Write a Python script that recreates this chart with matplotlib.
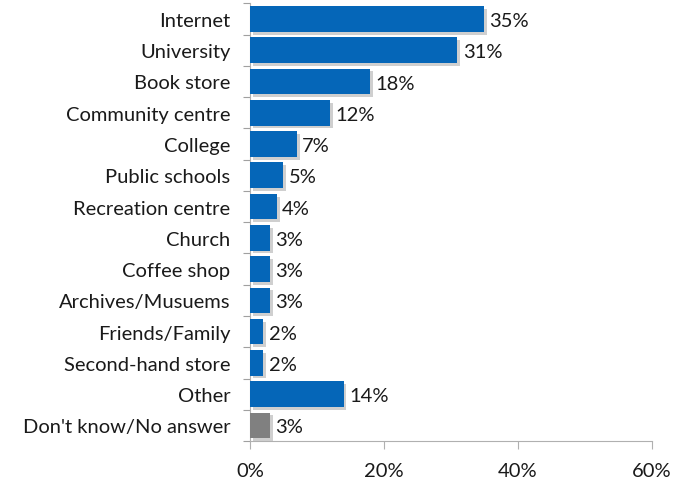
import numpy as np
import matplotlib.pyplot as plt
import matplotlib.patheffects as pe

# Where respondents go for information (% of respondents)
categories = ['Internet', 'University', 'Book store', 'Community centre', 'College',
              'Public schools', 'Recreation centre', 'Church', 'Coffee shop',
              'Archives/Musuems', 'Friends/Family', 'Second-hand store', 'Other',
              "Don't know/No answer"]
values = [35, 31, 18, 12, 7, 5, 4, 3, 3, 3, 2, 2, 14, 3]
bar_colors = ['#0566B8'] * 13 + ['#808080']
x_ticks = [0, 20, 40, 60]

plt.rcParams['font.family'] = ['Lato', 'DejaVu Sans']

fig = plt.figure(figsize=(6.83, 4.81), dpi=100)
ax = fig.add_axes([0.366, 0.081, 0.588, 0.91])

y = np.arange(len(categories))
bars = ax.barh(y, values, height=0.82, color=bar_colors, zorder=3)
for b in bars:
    b.set_path_effects([pe.SimplePatchShadow(offset=(2, -2), shadow_rgbFace='#b0b0b0', alpha=0.6),
                        pe.Normal()])

for yi, v in zip(y, values):
    ax.text(v + 0.8, yi + 0.05, f'{v}%', va='center', ha='left', fontsize=14.5, color='#1a1a1a')

ax.set_ylim(len(categories) - 0.5, -0.5)
ax.set_xlim(0, 60)
ax.set_yticks(y)
ax.set_yticklabels(categories, fontsize=14.5, color='#1a1a1a')
ax.set_yticks(np.arange(-0.5, len(categories), 1), minor=True)
ax.tick_params(axis='y', which='major', length=0, pad=14)
ax.tick_params(axis='y', which='minor', length=5, color='#a0a0a0', width=0.8)
ax.set_xticks(x_ticks)
ax.set_xticklabels([f'{t}%' for t in x_ticks], fontsize=14.5, color='#1a1a1a')
ax.tick_params(axis='x', length=6, color='#b0b0b0', width=0.8, pad=9)

for side in ['top', 'right']:
    ax.spines[side].set_visible(False)
for side in ['left', 'bottom']:
    ax.spines[side].set_color('#b0b0b0')
    ax.spines[side].set_linewidth(0.8)

fig.savefig('out.png', dpi=100)
